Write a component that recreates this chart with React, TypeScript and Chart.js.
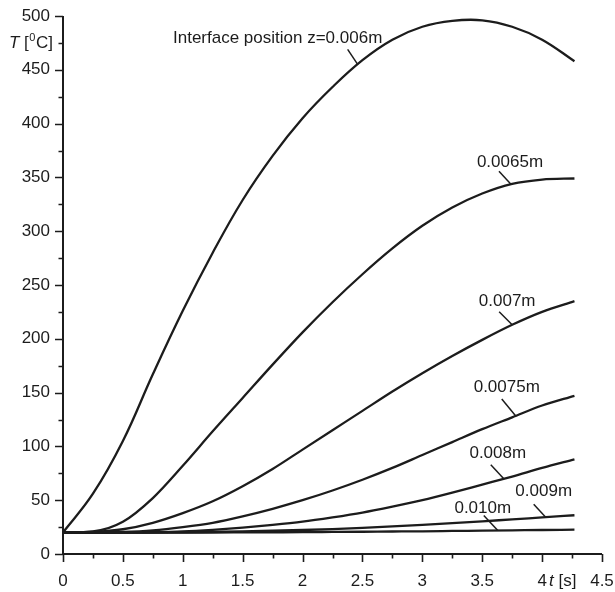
import React, { useEffect, useRef } from "react";
import { Chart, registerables } from "chart.js";

Chart.register(...registerables);

// ---------- data ----------
const seriesNames = ["0.006m", "0.0065m", "0.007m", "0.0075m", "0.008m", "0.009m", "0.010m"];

const tGrid = [0, 0.25, 0.5, 0.75, 1.0, 1.25, 1.5, 1.75, 2.0, 2.25, 2.5, 2.75, 3.0, 3.25, 3.5, 3.75, 4.0, 4.27];
const TZ006 = [20, 56, 105, 167, 226, 280, 329, 370, 405, 434, 459, 478, 490, 495.5, 496, 490, 478, 458];
const TZ0065 = [20, 21, 30, 52, 82, 114, 145, 176, 206, 234, 260, 284, 305, 322, 335, 344, 348, 349];
const TZ007 = [20, 20.5, 23, 29, 38, 49, 63, 79, 97, 115, 133, 151, 168, 184, 199, 213, 225, 235];
const TZ0075 = [20, 20, 20.5, 22, 25, 29, 35, 42, 50, 59, 69, 80, 92, 104, 116, 127, 138, 147];
const TZ008 = [20, 20, 20, 20.3, 21, 22.5, 24.5, 27, 30, 34, 38.5, 44, 50, 57, 64.5, 72, 80, 88];
const TZ009 = [20, 20, 20, 20, 20.2, 20.6, 21, 21.6, 22.3, 23.2, 24.3, 25.6, 27, 28.6, 30.3, 32.2, 34, 36];
const TZ010 = [20, 20, 20, 20, 20, 20, 20.1, 20.2, 20.3, 20.5, 20.7, 20.9, 21.1, 21.4, 21.7, 22, 22.3, 22.6];

const xMajorTicks = [0, 0.5, 1, 1.5, 2, 2.5, 3, 3.5, 4, 4.5];
const xMinorTicks = [0.25, 0.75, 1.25, 1.75, 2.25, 2.75, 3.25, 3.75, 4.25];
const yMajorTicks = [0, 50, 100, 150, 200, 250, 300, 350, 400, 450, 500];
const yMinorTicks = [25, 75, 125, 175, 225, 275, 325, 375, 425, 475];

const labelTexts = ["Interface position z=0.006m", "0.0065m", "0.007m", "0.0075m", "0.008m", "0.009m", "0.010m"];
const labelAtT = [2.46, 3.74, 3.75, 3.78, 3.68, 4.03, 3.63];

// ---------- styles ----------
const INK = "#1c1c1c";
const FAMILY = "'Liberation Sans', Arial, Helvetica, sans-serif";
const FONT_SIZE = 17;
// offsets (px) from curve point: leader start, label centre
const labelGeom = [
  { lead: [-10, -15], text: [-80, -26] },
  { lead: [-12, -13], text: [-1, -22] },
  { lead: [-13, -13], text: [-5, -23] },
  { lead: [-14, -17], text: [-9, -29] },
  { lead: [-13, -14], text: [-6, -25] },
  { lead: [-12, -13], text: [-2, -26] },
  { lead: [-14, -15], text: [-15, -22] },
];

const seriesV: number[][] = [TZ006, TZ0065, TZ007, TZ0075, TZ008, TZ009, TZ010];

function interp(ts: number[], vs: number[], t: number) {
  for (let i = 0; i < ts.length - 1; i++) {
    if (t >= ts[i] && t <= ts[i + 1]) {
      const f = (t - ts[i]) / (ts[i + 1] - ts[i]);
      return vs[i] + f * (vs[i + 1] - vs[i]);
    }
  }
  return vs[vs.length - 1];
}

const decorPlugin = {
  id: "decor",
  afterDraw(chart: any) {
    const { ctx, chartArea } = chart;
    const xs = chart.scales.x;
    const ys = chart.scales.y;
    ctx.save();
    ctx.strokeStyle = INK;
    ctx.fillStyle = INK;
    ctx.lineWidth = 2;
    // axis lines
    ctx.beginPath();
    ctx.moveTo(chartArea.left, chartArea.top);
    ctx.lineTo(chartArea.left, chartArea.bottom);
    ctx.lineTo(chartArea.right, chartArea.bottom);
    ctx.stroke();
    // ticks
    ctx.lineWidth = 1.6;
    ctx.beginPath();
    yMajorTicks.forEach((v) => {
      const p = Math.round(ys.getPixelForValue(v)) + 0.5;
      ctx.moveTo(chartArea.left - 8, p);
      ctx.lineTo(chartArea.left, p);
    });
    yMinorTicks.forEach((v) => {
      const p = Math.round(ys.getPixelForValue(v)) + 0.5;
      ctx.moveTo(chartArea.left - 4.5, p);
      ctx.lineTo(chartArea.left, p);
    });
    xMajorTicks.forEach((v) => {
      const p = Math.round(xs.getPixelForValue(v)) + 0.5;
      ctx.moveTo(p, chartArea.bottom);
      ctx.lineTo(p, chartArea.bottom + 8);
    });
    xMinorTicks.forEach((v) => {
      const p = Math.round(xs.getPixelForValue(v)) + 0.5;
      ctx.moveTo(p, chartArea.bottom);
      ctx.lineTo(p, chartArea.bottom + 4.5);
    });
    ctx.stroke();

    // y title  T [0C]
    const ty = ys.getPixelForValue(475);
    ctx.textBaseline = "middle";
    ctx.textAlign = "left";
    let cx = 9;
    ctx.font = `italic ${FONT_SIZE}px ${FAMILY}`;
    ctx.fillText("T", cx, ty);
    cx += ctx.measureText("T ").width;
    ctx.font = `${FONT_SIZE}px ${FAMILY}`;
    ctx.fillText("[", cx, ty);
    cx += ctx.measureText("[").width;
    ctx.font = `11px ${FAMILY}`;
    ctx.fillText("0", cx + 0.5, ty - 5);
    cx += ctx.measureText("0").width + 1;
    ctx.font = `${FONT_SIZE}px ${FAMILY}`;
    ctx.fillText("C]", cx, ty);

    // x title t [s]
    const bx = xs.getPixelForValue(4) + 7;
    const by = chartArea.bottom + 27;
    ctx.font = `italic ${FONT_SIZE}px ${FAMILY}`;
    ctx.fillText("t", bx, by);
    const w = ctx.measureText("t ").width;
    ctx.font = `${FONT_SIZE}px ${FAMILY}`;
    ctx.fillText("[s]", bx + w, by);

    // curve labels with leaders
    ctx.lineWidth = 1.5;
    ctx.textAlign = "center";
    labelTexts.forEach((txt, i) => {
      const t = labelAtT[i];
      const v = interp(tGrid, seriesV[i], t);
      const px = xs.getPixelForValue(t);
      const py = ys.getPixelForValue(v);
      const g = labelGeom[i];
      ctx.beginPath();
      ctx.moveTo(px + g.lead[0], py + g.lead[1]);
      ctx.lineTo(px, py);
      ctx.stroke();
      ctx.font = `${FONT_SIZE}px ${FAMILY}`;
      ctx.fillText(txt, px + g.text[0], py + g.text[1]);
    });
    ctx.restore();
  },
};

function zeroPad(s: any) {
  s.paddingLeft = 0;
  s.paddingRight = 0;
  s.paddingTop = 0;
  s.paddingBottom = 0;
}

export default function App() {
  const ref = useRef<HTMLCanvasElement | null>(null);

  useEffect(() => {
    if (!ref.current) return;
    const datasets = seriesNames.map((name, i) => ({
      label: name,
      data: tGrid.map((t, j) => ({ x: t, y: seriesV[i][j] })),
      borderColor: INK,
      borderWidth: 2.3,
      pointRadius: 0,
      fill: false,
      ...(i === 0 ? { tension: 0.4 } : { cubicInterpolationMode: "monotone" as const }),
    }));
    const chart = new Chart(ref.current, {
      type: "line",
      data: { datasets },
      plugins: [decorPlugin],
      options: {
        responsive: false,
        animation: false,
        devicePixelRatio: 1,
        layout: { padding: { left: 0, right: 13, top: 16, bottom: 0 }, autoPadding: false },
        plugins: { legend: { display: false }, tooltip: { enabled: false } },
        scales: {
          x: {
            type: "linear",
            min: 0,
            max: 4.5,
            afterBuildTicks: (s: any) => {
              s.ticks = xMajorTicks.map((v) => ({ value: v }));
            },
            afterFit: (s: any) => {
              s.height = 38;
              zeroPad(s);
            },
            ticks: {
              callback: (v: any) => String(v),
              font: { family: FAMILY, size: FONT_SIZE },
              color: INK,
              padding: 17,
              maxRotation: 0,
              autoSkip: false,
            },
            grid: { display: false, drawTicks: false },
            border: { display: false },
          },
          y: {
            type: "linear",
            min: 0,
            max: 500,
            afterBuildTicks: (s: any) => {
              s.ticks = yMajorTicks.map((v) => ({ value: v }));
            },
            afterFit: (s: any) => {
              s.width = 63;
              zeroPad(s);
            },
            ticks: {
              callback: (v: any) => String(v),
              font: { family: FAMILY, size: FONT_SIZE },
              color: INK,
              padding: 13,
              autoSkip: false,
            },
            grid: { display: false, drawTicks: false },
            border: { display: false },
          },
        },
      },
    });
    return () => chart.destroy();
  }, []);

  return (
    <div style={{ position: "absolute", left: 0, top: 0, width: 615, height: 592, background: "#fff" }}>
      <canvas ref={ref} width={615} height={592} style={{ display: "block" }} />
    </div>
  );
}
